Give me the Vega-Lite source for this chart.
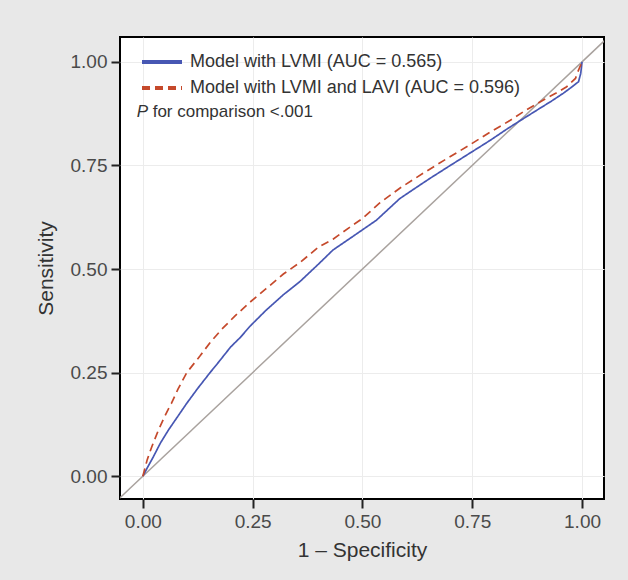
{
  "$schema": "https://vega.github.io/schema/vega-lite/v6.json",
  "autosize": "none",
  "width": 484,
  "height": 462,
  "padding": {"left": 120, "top": 37, "right": 24, "bottom": 81},
  "background": "#e8e8e8",
  "config": {
    "font": "Liberation Sans",
    "view": {"fill": "white", "stroke": "black", "strokeWidth": 2},
    "axis": {
      "grid": true, "gridColor": "#ececec", "gridWidth": 1,
      "domain": false, "tickColor": "#222", "tickWidth": 2, "tickSize": 9,
      "labelColor": "#4a4a4a", "labelFontSize": 19, "labelFont": "Liberation Sans",
      "titleColor": "#333", "titleFontSize": 21, "titleFontWeight": "normal", "titleFont": "Liberation Sans"
    }
  },
  "datasets": {
    "roc": [
      {"model": "Model with LVMI (AUC = 0.565)", "fpr": 0, "tpr": 0},
      {"model": "Model with LVMI (AUC = 0.565)", "fpr": 0.01, "tpr": 0.02},
      {"model": "Model with LVMI (AUC = 0.565)", "fpr": 0.024, "tpr": 0.047},
      {"model": "Model with LVMI (AUC = 0.565)", "fpr": 0.04, "tpr": 0.08},
      {"model": "Model with LVMI (AUC = 0.565)", "fpr": 0.058, "tpr": 0.111},
      {"model": "Model with LVMI (AUC = 0.565)", "fpr": 0.08, "tpr": 0.145},
      {"model": "Model with LVMI (AUC = 0.565)", "fpr": 0.1, "tpr": 0.176},
      {"model": "Model with LVMI (AUC = 0.565)", "fpr": 0.125, "tpr": 0.212},
      {"model": "Model with LVMI (AUC = 0.565)", "fpr": 0.153, "tpr": 0.25},
      {"model": "Model with LVMI (AUC = 0.565)", "fpr": 0.17, "tpr": 0.272},
      {"model": "Model with LVMI (AUC = 0.565)", "fpr": 0.2, "tpr": 0.312},
      {"model": "Model with LVMI (AUC = 0.565)", "fpr": 0.222, "tpr": 0.335},
      {"model": "Model with LVMI (AUC = 0.565)", "fpr": 0.244, "tpr": 0.362},
      {"model": "Model with LVMI (AUC = 0.565)", "fpr": 0.28, "tpr": 0.4},
      {"model": "Model with LVMI (AUC = 0.565)", "fpr": 0.32, "tpr": 0.438},
      {"model": "Model with LVMI (AUC = 0.565)", "fpr": 0.358, "tpr": 0.47},
      {"model": "Model with LVMI (AUC = 0.565)", "fpr": 0.4, "tpr": 0.512},
      {"model": "Model with LVMI (AUC = 0.565)", "fpr": 0.433, "tpr": 0.546},
      {"model": "Model with LVMI (AUC = 0.565)", "fpr": 0.48, "tpr": 0.58},
      {"model": "Model with LVMI (AUC = 0.565)", "fpr": 0.532, "tpr": 0.618},
      {"model": "Model with LVMI (AUC = 0.565)", "fpr": 0.585, "tpr": 0.67},
      {"model": "Model with LVMI (AUC = 0.565)", "fpr": 0.62, "tpr": 0.695},
      {"model": "Model with LVMI (AUC = 0.565)", "fpr": 0.654, "tpr": 0.719},
      {"model": "Model with LVMI (AUC = 0.565)", "fpr": 0.7, "tpr": 0.75},
      {"model": "Model with LVMI (AUC = 0.565)", "fpr": 0.745, "tpr": 0.78},
      {"model": "Model with LVMI (AUC = 0.565)", "fpr": 0.79, "tpr": 0.81},
      {"model": "Model with LVMI (AUC = 0.565)", "fpr": 0.832, "tpr": 0.84},
      {"model": "Model with LVMI (AUC = 0.565)", "fpr": 0.889, "tpr": 0.878},
      {"model": "Model with LVMI (AUC = 0.565)", "fpr": 0.93, "tpr": 0.905},
      {"model": "Model with LVMI (AUC = 0.565)", "fpr": 0.957, "tpr": 0.924},
      {"model": "Model with LVMI (AUC = 0.565)", "fpr": 0.975, "tpr": 0.938},
      {"model": "Model with LVMI (AUC = 0.565)", "fpr": 0.992, "tpr": 0.952},
      {"model": "Model with LVMI (AUC = 0.565)", "fpr": 0.997, "tpr": 0.972},
      {"model": "Model with LVMI (AUC = 0.565)", "fpr": 1, "tpr": 1},
      {"model": "Model with LVMI and LAVI (AUC = 0.596)", "fpr": 0, "tpr": 0},
      {"model": "Model with LVMI and LAVI (AUC = 0.596)", "fpr": 0.01, "tpr": 0.04},
      {"model": "Model with LVMI and LAVI (AUC = 0.596)", "fpr": 0.02, "tpr": 0.07},
      {"model": "Model with LVMI and LAVI (AUC = 0.596)", "fpr": 0.035, "tpr": 0.11},
      {"model": "Model with LVMI and LAVI (AUC = 0.596)", "fpr": 0.05, "tpr": 0.145},
      {"model": "Model with LVMI and LAVI (AUC = 0.596)", "fpr": 0.065, "tpr": 0.176},
      {"model": "Model with LVMI and LAVI (AUC = 0.596)", "fpr": 0.08, "tpr": 0.21},
      {"model": "Model with LVMI and LAVI (AUC = 0.596)", "fpr": 0.1, "tpr": 0.25},
      {"model": "Model with LVMI and LAVI (AUC = 0.596)", "fpr": 0.13, "tpr": 0.29},
      {"model": "Model with LVMI and LAVI (AUC = 0.596)", "fpr": 0.155, "tpr": 0.325},
      {"model": "Model with LVMI and LAVI (AUC = 0.596)", "fpr": 0.18, "tpr": 0.355},
      {"model": "Model with LVMI and LAVI (AUC = 0.596)", "fpr": 0.21, "tpr": 0.387},
      {"model": "Model with LVMI and LAVI (AUC = 0.596)", "fpr": 0.244, "tpr": 0.42},
      {"model": "Model with LVMI and LAVI (AUC = 0.596)", "fpr": 0.28, "tpr": 0.452},
      {"model": "Model with LVMI and LAVI (AUC = 0.596)", "fpr": 0.32, "tpr": 0.488},
      {"model": "Model with LVMI and LAVI (AUC = 0.596)", "fpr": 0.358, "tpr": 0.516},
      {"model": "Model with LVMI and LAVI (AUC = 0.596)", "fpr": 0.4, "tpr": 0.553},
      {"model": "Model with LVMI and LAVI (AUC = 0.596)", "fpr": 0.433, "tpr": 0.572},
      {"model": "Model with LVMI and LAVI (AUC = 0.596)", "fpr": 0.47, "tpr": 0.6},
      {"model": "Model with LVMI and LAVI (AUC = 0.596)", "fpr": 0.5, "tpr": 0.622},
      {"model": "Model with LVMI and LAVI (AUC = 0.596)", "fpr": 0.54, "tpr": 0.66},
      {"model": "Model with LVMI and LAVI (AUC = 0.596)", "fpr": 0.585, "tpr": 0.695},
      {"model": "Model with LVMI and LAVI (AUC = 0.596)", "fpr": 0.638, "tpr": 0.731},
      {"model": "Model with LVMI and LAVI (AUC = 0.596)", "fpr": 0.69, "tpr": 0.765},
      {"model": "Model with LVMI and LAVI (AUC = 0.596)", "fpr": 0.745, "tpr": 0.8},
      {"model": "Model with LVMI and LAVI (AUC = 0.596)", "fpr": 0.79, "tpr": 0.83},
      {"model": "Model with LVMI and LAVI (AUC = 0.596)", "fpr": 0.832, "tpr": 0.856},
      {"model": "Model with LVMI and LAVI (AUC = 0.596)", "fpr": 0.87, "tpr": 0.882},
      {"model": "Model with LVMI and LAVI (AUC = 0.596)", "fpr": 0.912, "tpr": 0.908},
      {"model": "Model with LVMI and LAVI (AUC = 0.596)", "fpr": 0.94, "tpr": 0.924},
      {"model": "Model with LVMI and LAVI (AUC = 0.596)", "fpr": 0.965, "tpr": 0.94},
      {"model": "Model with LVMI and LAVI (AUC = 0.596)", "fpr": 0.985, "tpr": 0.96},
      {"model": "Model with LVMI and LAVI (AUC = 0.596)", "fpr": 0.992, "tpr": 0.98},
      {"model": "Model with LVMI and LAVI (AUC = 0.596)", "fpr": 1, "tpr": 1}
    ],
    "diag": [
      {"fpr": -0.1, "tpr": -0.1},
      {"fpr": 1.1, "tpr": 1.1}
    ],
    "note": [
      {"fpr": -0.014, "tpr": 0.878, "p": "P", "rest": "for comparison <.001"}
    ]
  },
  "layer": [
    {
      "data": {"name": "diag"},
      "mark": {"type": "line", "color": "#a9a29e", "strokeWidth": 1.5, "clip": true},
      "encoding": {
        "x": {"field": "fpr", "type": "quantitative", "scale": {"domain": [-0.052, 1.05], "nice": false, "zero": false},
              "axis": {"values": [0, 0.25, 0.5, 0.75, 1], "format": ".2f", "title": "1 – Specificity", "labelPadding": 4, "titlePadding": 8}},
        "y": {"field": "tpr", "type": "quantitative", "scale": {"domain": [-0.055, 1.06], "nice": false, "zero": false},
              "axis": {"values": [0, 0.25, 0.5, 0.75, 1], "format": ".2f", "title": "Sensitivity", "labelPadding": 4, "titlePadding": 14}}
      }
    },
    {
      "data": {"name": "roc"},
      "mark": {"type": "line", "strokeWidth": 1.7, "clip": true},
      "encoding": {
        "x": {"field": "fpr", "type": "quantitative"},
        "y": {"field": "tpr", "type": "quantitative"},
        "order": {"field": "fpr", "type": "quantitative"},
        "color": {"field": "model", "type": "nominal", "title": null,
                  "scale": {"domain": ["Model with LVMI (AUC = 0.565)", "Model with LVMI and LAVI (AUC = 0.596)"], "range": ["#4757b3", "#c5492b"]},
                  "legend": {"orient": "none", "legendX": 20, "legendY": 15, "symbolType": "stroke", "symbolSize": 1600, "symbolStrokeWidth": 4,
                             "clipHeight": 20, "labelFontSize": 18, "labelColor": "#333", "labelFont": "Liberation Sans", "labelLimit": 500, "rowPadding": 6, "labelOffset": 6}},
        "strokeDash": {"field": "model", "type": "nominal", "title": null,
                       "scale": {"domain": ["Model with LVMI (AUC = 0.565)", "Model with LVMI and LAVI (AUC = 0.596)"], "range": [[1, 0], [8, 5]]}}
      }
    },
    {
      "data": {"name": "note"},
      "mark": {"type": "text", "align": "left", "baseline": "middle", "fontSize": 17, "fontStyle": "italic", "color": "#333", "font": "Liberation Sans"},
      "encoding": {
        "x": {"field": "fpr", "type": "quantitative"},
        "y": {"field": "tpr", "type": "quantitative"},
        "text": {"field": "p"}
      }
    },
    {
      "data": {"name": "note"},
      "mark": {"type": "text", "align": "left", "baseline": "middle", "fontSize": 17, "dx": 16, "color": "#333", "font": "Liberation Sans"},
      "encoding": {
        "x": {"field": "fpr", "type": "quantitative"},
        "y": {"field": "tpr", "type": "quantitative"},
        "text": {"field": "rest"}
      }
    }
  ]
}
